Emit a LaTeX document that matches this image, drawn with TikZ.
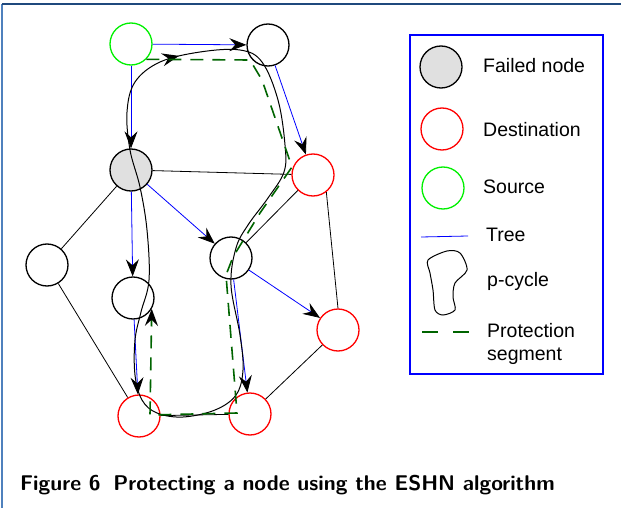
\documentclass[tikz,border=0pt]{standalone}
\usepackage{fontspec}
\usetikzlibrary{arrows.meta, decorations.markings}
\newfontfamily\legendfont{Liberation Sans}
\definecolor{failgray}{RGB}{224,224,224}
\definecolor{srcgreen}{RGB}{0,240,0}
\definecolor{protgreen}{RGB}{0,100,0}
\definecolor{frametop}{RGB}{31,73,125}
\definecolor{frameleft}{RGB}{79,129,189}

\begin{document}
\begin{tikzpicture}[
    x=1pt, y=-1pt,
    vertex/.style={draw, circle, minimum size=42pt, inner sep=0pt, line width=1.3pt},
    failed/.style={vertex, fill=failgray},
    dest/.style={vertex, draw=red},
    src/.style={vertex, draw=srcgreen},
    tip/.style={-{Stealth[black, length=17pt, width=13pt, inset=6pt]}},
    tree/.style={draw=blue, line width=0.8pt, tip},
    link/.style={draw, line width=0.8pt},
    pcycle/.style={draw, line width=1pt},
    prot/.style={draw=protgreen, line width=1.6pt, dash pattern=on 13pt off 9pt},
    lbl/.style={font=\legendfont\fontsize{19.5}{22}\selectfont, anchor=base west, inner sep=0pt}
]
\useasboundingbox (0,0) rectangle (621,508);
\draw[frameleft, line width=1.6pt] (2,4) -- (2,508);
\draw[frametop, line width=1.3pt] (2,4) -- (621,4);

% network
\node[src] (src) at (131,44) {};
\node[vertex] (top) at (268,45) {};
\node[failed] (fail) at (131,170) {};
\node[dest] (dst1) at (313,175) {};
\node[vertex] (left) at (47,265) {};
\node[vertex] (mid) at (231,258) {};
\node[vertex] (child) at (133,298) {};
\node[dest] (dst2) at (338,330) {};
\node[dest] (dst3) at (139,416) {};
\node[dest] (dst4) at (250,414) {};

% tree
\draw[tree] (src) -- (top);
\draw[tree] (src) -- (fail);
\draw[tree] (top) -- (dst1);
\draw[tree] (fail) -- (mid);
\draw[tree] (fail) -- (child);
\draw[tree] (child) -- (dst3);
\draw[tree] (mid) -- (dst2);
\draw[tree] (mid) -- (dst4);

% other links
\draw[link] (fail) -- (dst1);
\draw[link] (fail) -- (left);
\draw[link] (left) -- (dst3);
\draw[link] (dst3) -- (dst4);
\draw[link] (dst4) -- (dst2);
\draw[link] (dst1.-52) -- (dst2.north);
\draw[link] (dst1) -- (mid);

% p-cycle
\draw[pcycle, postaction={decorate},
    decoration={markings, mark=at position 20pt with {\arrow{Stealth[length=17pt, width=13pt, inset=6pt]}}}]
    plot[smooth cycle, tension=0.6] coordinates {(135,82) (160,62) (200,52) (240,50) (262,62) (278,100) (285,145)
    (284,172) (268,198) (248,225) (236,248) (231,285) (240,335) (243,370) (236,395) (215,410) (183,417)
    (157,413) (142,400) (135,375) (135,340) (141,312) (149,280) (147,230) (140,187) (130,150) (127,112)};

% protection segment
\draw[prot, tip] (src.-45) -- (250,60) -- (262,80) -- (292,167) -- (260,213) -- (233,257) -- (226,275)
    -- (237,413) -- (150,415) -- (child.-30);

% legend
\draw[blue, line width=1.6pt] (410,35) rectangle (603,374);
\node[failed] (legfail) at (441,67) {};
\node[dest] (legdst) at (442,129) {};
\node[src] (legsrc) at (443,188) {};
\draw[blue, line width=0.8pt] (421,237) -- (468,236);
\draw[pcycle] plot[smooth cycle] coordinates {(428,260) (447,251) (460,253) (467,270) (455,283) (453,297)
    (455,310) (443,315) (435,310) (433,290) (430,273)};
\draw[protgreen, line width=1.6pt, dash pattern=on 16pt off 15pt] (422,332) -- (470,332);
\node[lbl] (txtfail) at (483,73) {Failed node};
\node[lbl] (txtdst) at (483,136) {Destination};
\node[lbl] (txtsrc) at (483,193) {Source};
\node[lbl] (txttree) at (486,241) {Tree};
\node[lbl] (txtcycle) at (487,286) {p-cycle};
\node[lbl] (txtprot) at (487,337) {Protection};
\node[lbl] (txtseg) at (487,360) {segment};

% caption
\node[font=\sffamily\bfseries\fontsize{21.3}{24}\selectfont, anchor=base west, inner sep=0pt] (cap)
    at (20,490) {Figure 6\hspace{0.6em}Protecting a node using the ESHN algorithm};
\end{tikzpicture}
\end{document}
